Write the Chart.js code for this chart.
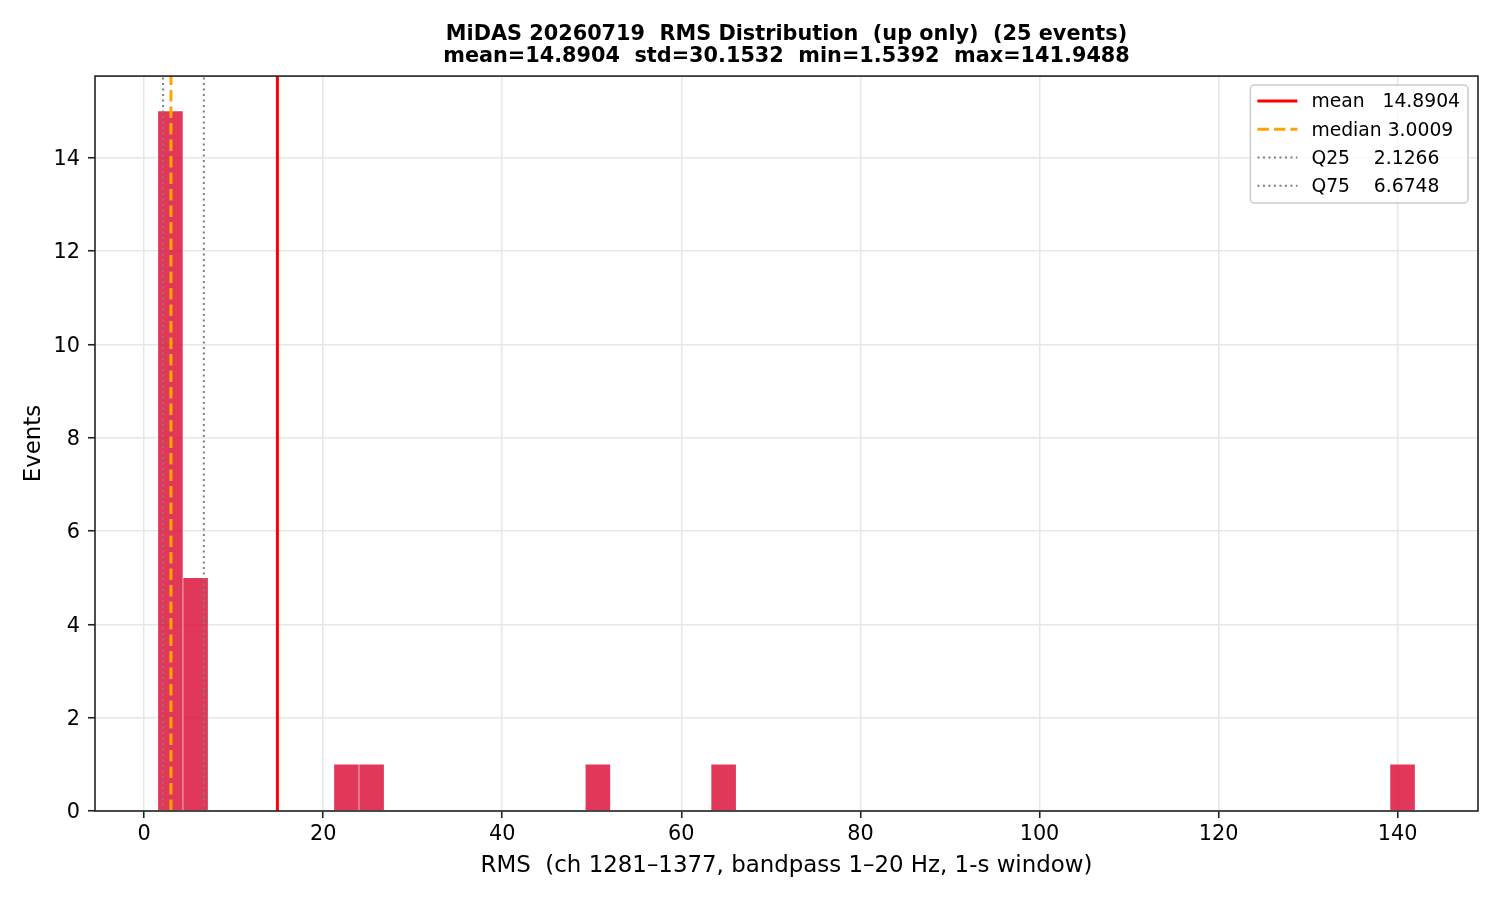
<!DOCTYPE html>
<html>
<head>
<meta charset="utf-8">
<title>MiDAS RMS Distribution</title>
<script src="https://cdn.jsdelivr.net/npm/chart.js@4.4.1/dist/chart.umd.min.js"></script>
<style>
  html, body { margin: 0; padding: 0; background: #fff; }
  #wrap { width: 1500px; height: 900px; }
</style>
</head>
<body>
<div id="wrap"><canvas id="rmsChart" width="1500" height="900"></canvas></div>
<script>
// non-empty histogram bins: left edge and count (50 bins from min to max)
const binLeft = [1.5392, 4.3474, 21.1966, 24.0047, 49.2785, 63.3195, 139.1407];
const binCounts = [15, 5, 1, 1, 1, 1, 1];
const binWidth = 2.8082;

// reference lines
const statNames = ['mean', 'median', 'Q25', 'Q75'];
const statValues = [14.8904, 3.0009, 2.1266, 6.6748];
const statColors = ['#ff0000', '#ffa500', '#808080', '#808080'];
const statDashes = [[], [11.5, 5], [2.1, 3.4], [2.1, 3.4]];
const statWidths = [3, 3, 2, 2];

const xTicks = [0, 20, 40, 60, 80, 100, 120, 140];
const yTicks = [0, 2, 4, 6, 8, 10, 12, 14];
const xRange = [-5.48, 148.97];
const yRange = [0, 15.75];

const titleLines = [
    'MiDAS 20260719  RMS Distribution  (up only)  (25 events)',
    'mean=14.8904  std=30.1532  min=1.5392  max=141.9488'
];
const xLabel = 'RMS  (ch 1281\u20131377, bandpass 1\u201320 Hz, 1-s window)';
const yLabel = 'Events';

const FONT = 'DejaVu Sans';
Chart.defaults.font.family = FONT;
Chart.defaults.color = '#000';

// axes frame (all four spines)
const framePlugin = {
    id: 'frame',
    afterDatasetsDraw(chart) {
        const { ctx, chartArea: a } = chart;
        ctx.save();
        ctx.strokeStyle = '#222';
        ctx.lineWidth = 1.6;
        ctx.strokeRect(a.left, a.top, a.right - a.left, a.bottom - a.top);
        ctx.restore();
    }
};

// matplotlib-style legend box in the upper right of the plot
const boxLegend = {
    id: 'boxLegend',
    afterDraw(chart) {
        const { ctx, chartArea: a } = chart;
        ctx.save();
        ctx.font = `18.75px "${FONT}"`;
        const labels = statNames.map((n, i) => n.padEnd(7) + statValues[i].toFixed(4));
        const textW = Math.max(...labels.map(l => ctx.measureText(l).width));
        const padL = 7, lineLen = 40, gap = 14, padR = 8, rowH = 28.2, padT = 16, padB = 17.4;
        const w = padL + lineLen + gap + textW + padR;
        const h = padT + rowH * (labels.length - 1) + padB;
        const x = a.right - 10 - w;
        const y = a.top + 9;
        const r = 4;

        ctx.beginPath();
        ctx.moveTo(x + r, y);
        ctx.lineTo(x + w - r, y);
        ctx.arcTo(x + w, y, x + w, y + r, r);
        ctx.lineTo(x + w, y + h - r);
        ctx.arcTo(x + w, y + h, x + w - r, y + h, r);
        ctx.lineTo(x + r, y + h);
        ctx.arcTo(x, y + h, x, y + h - r, r);
        ctx.lineTo(x, y + r);
        ctx.arcTo(x, y, x + r, y, r);
        ctx.closePath();
        ctx.fillStyle = 'rgba(255,255,255,0.8)';
        ctx.fill();
        ctx.strokeStyle = '#cccccc';
        ctx.lineWidth = 1.5;
        ctx.stroke();

        labels.forEach((label, i) => {
            const cy = y + padT + i * rowH;
            ctx.beginPath();
            ctx.setLineDash(statDashes[i]);
            ctx.strokeStyle = statColors[i];
            ctx.lineWidth = statWidths[i];
            ctx.moveTo(x + padL, cy);
            ctx.lineTo(x + padL + lineLen, cy);
            ctx.stroke();
            ctx.setLineDash([]);
            ctx.fillStyle = '#000';
            ctx.textAlign = 'left';
            ctx.textBaseline = 'middle';
            ctx.fillText(label, x + padL + lineLen + gap, cy + 1.5);
        });
        ctx.restore();
    }
};

const lineDatasets = statNames.map((name, i) => ({
    type: 'line',
    label: name,
    data: [{ x: statValues[i], y: yRange[0] }, { x: statValues[i], y: yRange[1] }],
    borderColor: statColors[i],
    borderWidth: statWidths[i],
    borderDash: statDashes[i],
    pointRadius: 0,
    fill: false,
    order: 1
}));

new Chart(document.getElementById('rmsChart'), {
    type: 'bar',
    data: {
        datasets: [{
            label: 'RMS',
            data: binLeft.map((lo, i) => ({ x: lo + binWidth / 2, y: binCounts[i] })),
            backgroundColor: 'rgba(220,20,60,0.85)',
            borderColor: 'rgba(255,255,255,0.9)',
            borderWidth: 0.6,
            barPercentage: 1,
            categoryPercentage: 1,
            order: 2
        }, ...lineDatasets]
    },
    options: {
        responsive: false,
        devicePixelRatio: 1,
        animation: false,
        layout: { padding: { left: 0, right: 22, top: 0, bottom: 0 } },
        plugins: {
            legend: { display: false },
            tooltip: { enabled: false },
            title: {
                display: true,
                fullSize: false,
                text: titleLines,
                color: '#000',
                font: { family: FONT, size: 20.8, weight: 'bold', lineHeight: 1.045 },
                padding: { top: 24, bottom: 8.6 }
            }
        },
        scales: {
            x: {
                type: 'linear',
                min: xRange[0],
                max: xRange[1],
                offset: false,
                afterBuildTicks: s => { s.ticks = xTicks.map(v => ({ value: v })); },
                afterFit: s => { s.height = 89; },
                ticks: { font: { size: 20.8 }, color: '#000', padding: 4, maxRotation: 0, autoSkip: false },
                grid: { offset: false, color: '#e7e7e7', lineWidth: 1.5, tickColor: '#222', tickWidth: 1.6, tickLength: 7 },
                border: { display: false },
                title: { display: true, text: xLabel, color: '#000', font: { size: 22.9 }, padding: { top: 0, bottom: 20 } }
            },
            y: {
                type: 'linear',
                min: yRange[0],
                max: yRange[1],
                afterBuildTicks: s => { s.ticks = yTicks.map(v => ({ value: v })); },
                afterFit: s => { s.width = 95; },
                ticks: { font: { size: 20.8 }, color: '#000', padding: 8, labelOffset: 2, autoSkip: false },
                grid: { color: '#e7e7e7', lineWidth: 1.5, tickColor: '#222', tickWidth: 1.6, tickLength: 7 },
                border: { display: false },
                title: { display: true, text: yLabel, color: '#000', font: { size: 22.9 }, padding: { top: 20, bottom: 0 } }
            }
        }
    },
    plugins: [framePlugin, boxLegend]
});
</script>
</body>
</html>
